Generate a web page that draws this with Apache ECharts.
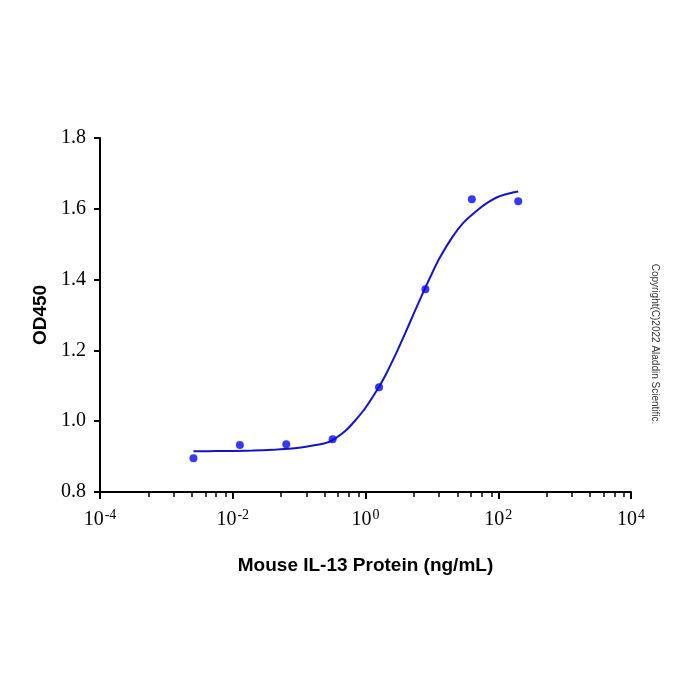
<!DOCTYPE html>
<html>
<head>
<meta charset="utf-8">
<script src="https://cdn.jsdelivr.net/npm/echarts@6/dist/echarts.min.js"></script>
<style>
  html, body { margin: 0; padding: 0; background: #fff; }
  #chart { width: 700px; height: 700px; }
</style>
</head>
<body>
<div id="chart"></div>
<script>
// measured points (ng/mL, OD450)
const doseX = [0.00256, 0.0128, 0.064, 0.32, 1.6, 8, 40, 200];
const odY = [0.895, 0.933, 0.935, 0.949, 1.096, 1.373, 1.627, 1.621];

// fitted curve
const curveX = [0.00256, 0.004, 0.007, 0.01, 0.02, 0.04, 0.07, 0.1, 0.2, 0.3, 0.5, 0.7,
                1, 1.5, 2, 3, 4, 5, 6, 8, 10, 13, 20, 30, 50, 70, 100, 150, 200];
const curveY = [0.915, 0.915, 0.916, 0.916, 0.917, 0.919, 0.922, 0.925, 0.934, 0.944, 0.973, 1.002,
                1.038, 1.089, 1.130, 1.198, 1.250, 1.292, 1.326, 1.378, 1.417, 1.460, 1.518, 1.561, 1.598, 1.618, 1.634, 1.644, 1.649];

// axis ticks
const majorTicks = [1e-4, 1e-2, 1, 1e2, 1e4];
const minorSteps = [5.35, 12.9, 24.3, 38.7, 56, 79];   // minor ticks inside each 100x span
const minorTicks = [];
majorTicks.slice(0, -1).forEach(m => minorSteps.forEach(s => minorTicks.push(m * s)));

const serif = '"Liberation Serif", "Times New Roman", serif';
const sans = '"Liberation Sans", Arial, sans-serif';

const chart = echarts.init(document.getElementById('chart'));

chart.setOption({
    backgroundColor: '#fff',
    animation: false,
    grid: { left: 100, right: 69, top: 138, bottom: 208 },
    xAxis: [{
        type: 'log',
        logBase: 10,
        min: 1e-4,
        max: 1e4,
        name: 'Mouse IL-13 Protein (ng/mL)',
        nameLocation: 'middle',
        nameGap: 64,
        nameTextStyle: { fontFamily: sans, fontWeight: 'bold', fontSize: 19, color: '#000' },
        axisLine: { lineStyle: { color: '#000', width: 2 } },
        axisTick: { show: true, length: 7, lineStyle: { color: '#000', width: 2 }, customValues: majorTicks },
        minorTick: { show: false },
        splitLine: { show: false },
        axisLabel: {
            customValues: majorTicks,
            margin: 16,
            formatter: v => '{b|10}{sup|' + Math.round(Math.log10(v)) + '}',
            rich: {
                b: { fontFamily: serif, fontSize: 20, color: '#000' },
                sup: { fontFamily: serif, fontSize: 14, color: '#000', verticalAlign: 'bottom', padding: [0, 0, 10, 1] }
            }
        }
    }, {
        // minor ticks only
        type: 'log',
        logBase: 10,
        min: 1e-4,
        max: 1e4,
        position: 'bottom',
        axisLine: { show: false },
        axisTick: { show: true, length: 5, lineStyle: { color: '#000', width: 1.5 }, customValues: minorTicks },
        axisLabel: { show: false },
        splitLine: { show: false }
    }],
    yAxis: {
        type: 'value',
        min: 0.8,
        max: 1.8,
        interval: 0.2,
        name: 'OD450',
        nameLocation: 'middle',
        nameGap: 50,
        nameRotate: 90,
        nameTextStyle: { fontFamily: sans, fontWeight: 'bold', fontSize: 19, color: '#000' },
        axisLine: { show: true, lineStyle: { color: '#000', width: 2 } },
        axisTick: { show: true, length: 6, lineStyle: { color: '#000', width: 2 } },
        splitLine: { show: false },
        axisLabel: {
            margin: 14,
            fontFamily: serif,
            fontSize: 20,
            color: '#000',
            formatter: v => v.toFixed(1)
        }
    },
    series: [{
        name: 'fit',
        type: 'line',
        xAxisIndex: 0,
        data: curveX.map((x, i) => [x, curveY[i]]),
        smooth: 0.2,
        showSymbol: false,
        lineStyle: { color: '#1414c0', width: 2 },
        z: 2
    }, {
        name: 'data',
        type: 'scatter',
        xAxisIndex: 0,
        data: doseX.map((x, i) => [x, odY[i]]),
        symbol: 'circle',
        symbolSize: 8,
        itemStyle: { color: '#0808f0' },
        z: 3
    }],
    graphic: [{
        type: 'text',
        x: 655,
        y: 344,
        rotation: -Math.PI / 2,
        style: {
            text: 'Copyright(C)2022 Aladdin Scientific.',
            fontFamily: sans,
            fontSize: 10,
            fill: '#333',
            align: 'center',
            verticalAlign: 'middle'
        }
    }]
});
</script>
</body>
</html>
